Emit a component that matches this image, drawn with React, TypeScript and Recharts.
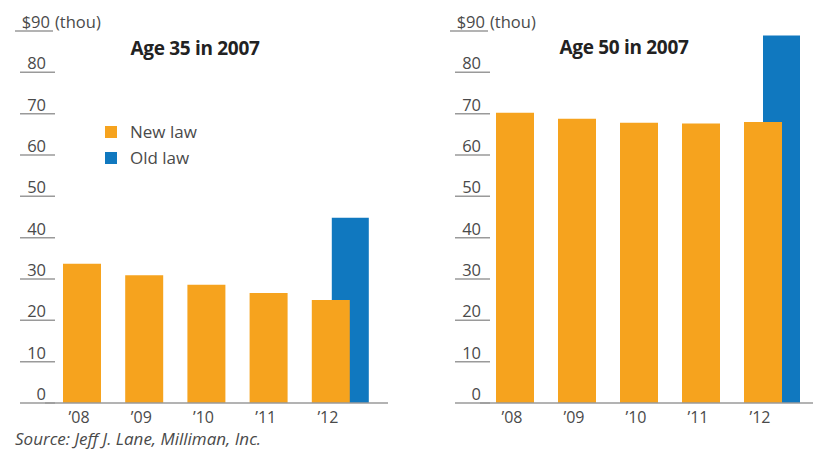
import { BarChart, Bar, XAxis, YAxis } from 'recharts';

const years = ['’08', '’09', '’10', '’11', '’12'];
const age35New = [33.7, 30.9, 28.6, 26.6, 24.9];
const age35Old = [null, null, null, null, 44.8];
const age50New = [70.2, 68.8, 67.8, 67.6, 68.0];
const age50Old = [null, null, null, null, 88.9];
const yTicks = [0, 10, 20, 30, 40, 50, 60, 70, 80, 90];

const ORANGE = '#F6A31E';
const BLUE = '#1078BF';
const GRAY = '#9a9a9a';
const TEXT = '#4a4a4a';
const FONT = '"Open Sans", "Noto Sans", sans-serif';

function rows(newVals: number[], oldVals: (number | null)[]) {
  return years.map((year, i) => ({ year, newLaw: newVals[i], oldLaw: oldVals[i] }));
}

function YTick(props: any) {
  const { x, y, payload } = props;
  const v = payload.value;
  if (v === 90) {
    return (
      <g>
        <text x={x + 5} y={y - 3} textAnchor="end" fill={TEXT} fontSize={16.5} fontFamily={FONT}>$90</text>
        <text x={x + 10} y={y - 3} textAnchor="start" fill={TEXT} fontSize={16.5} fontFamily={FONT}>(thou)</text>
        <line x1={x - 30} x2={x + 8} y1={y} y2={y} stroke={GRAY} strokeWidth={1.5} />
      </g>
    );
  }
  return (
    <g>
      <text x={x + 1} y={y - 3} textAnchor="end" fill={TEXT} fontSize={16.5} fontFamily={FONT}>{v}</text>
      <line x1={x - 25} x2={x + 10} y1={y} y2={y} stroke={GRAY} strokeWidth={1.5} />
    </g>
  );
}

function XTick(props: any) {
  const { x, y, payload } = props;
  return (
    <text x={x - 3} y={y + 20} textAnchor="middle" fill={TEXT} fontSize={16} fontFamily={FONT}>
      {payload.value}
    </text>
  );
}

type PanelProps = {
  data: any[];
  width: number;
  marginRight: number;
  axisWidth: number;
  padNew: { left: number; right: number };
  padOld: { left: number; right: number };
};

function Panel({ data, width, marginRight, axisWidth, padNew, padOld }: PanelProps) {
  return (
    <BarChart
      width={width}
      height={451}
      data={data}
      margin={{ top: 31, bottom: 18, left: 0, right: marginRight }}
    >
      <YAxis
        width={axisWidth}
        domain={[0, 90]}
        ticks={yTicks}
        interval={0}
        axisLine={false}
        tickLine={false}
        tickSize={0}
        tickMargin={0}
        tick={<YTick />}
      />
      <XAxis
        dataKey="year"
        height={30}
        padding={padNew}
        axisLine={{ stroke: GRAY, strokeWidth: 1.5 }}
        tickLine={false}
        tickSize={0}
        tickMargin={0}
        tick={<XTick />}
        interval={0}
      />
      {/* second hidden axis shifts the old-law bar right so it sits behind the '12 bar */}
      <XAxis dataKey="year" xAxisId="old" hide padding={padOld} />
      <Bar dataKey="oldLaw" xAxisId="old" fill={BLUE} barSize={37} isAnimationActive={false} />
      <Bar dataKey="newLaw" fill={ORANGE} barSize={38} isAnimationActive={false} />
    </BarChart>
  );
}

export default function App() {
  return (
    <div style={{ position: 'absolute', left: 0, top: 0, width: 813, height: 451, background: '#fff', fontFamily: FONT }}>
      <div style={{ position: 'absolute', left: 0, top: 0 }}>
        <Panel
          data={rows(age35New, age35Old)}
          width={400}
          marginRight={12}
          axisWidth={45}
          padNew={{ left: 6, right: 26 }}
          padOld={{ left: 25, right: 7 }}
        />
      </div>
      <div style={{ position: 'absolute', left: 410, top: 0 }}>
        <Panel
          data={rows(age50New, age50Old)}
          width={403}
          marginRight={0}
          axisWidth={70}
          padNew={{ left: 4, right: 19 }}
          padOld={{ left: 22, right: 1 }}
        />
      </div>

      <div style={{ position: 'absolute', left: 95, top: 35, width: 200, textAlign: 'center', fontWeight: 700, fontSize: 19, lineHeight: '26px', color: '#222', letterSpacing: -0.3 }}>
        Age 35 in 2007
      </div>
      <div style={{ position: 'absolute', left: 524, top: 34, width: 200, textAlign: 'center', fontWeight: 700, fontSize: 19, lineHeight: '26px', color: '#222', letterSpacing: -0.3 }}>
        Age 50 in 2007
      </div>

      <div style={{ position: 'absolute', left: 105, top: 119, fontSize: 17, color: TEXT, lineHeight: '26px' }}>
        <div style={{ display: 'flex', alignItems: 'center' }}>
          <span style={{ width: 12, height: 12, background: ORANGE, display: 'inline-block', marginRight: 13 }} />
          New law
        </div>
        <div style={{ display: 'flex', alignItems: 'center' }}>
          <span style={{ width: 12, height: 12, background: BLUE, display: 'inline-block', marginRight: 13 }} />
          Old law
        </div>
      </div>

      <div style={{ position: 'absolute', left: 15, top: 430, fontSize: 17, fontStyle: 'italic', color: TEXT, lineHeight: '18px' }}>
        Source: Jeff J. Lane, Milliman, Inc.
      </div>
    </div>
  );
}
